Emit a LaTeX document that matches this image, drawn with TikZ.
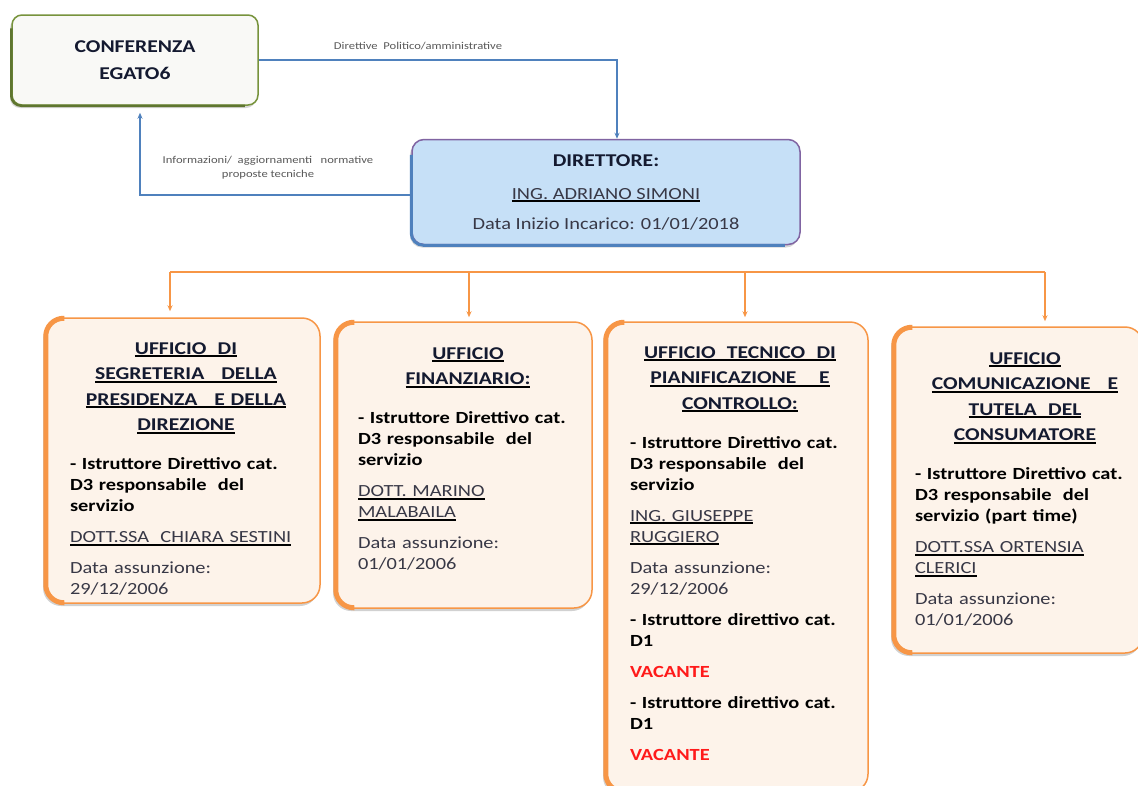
\documentclass[tikz,border=0pt]{standalone}
\usepackage{fontspec}
\setmainfont{Carlito}[FakeStretch=1.2]
\usetikzlibrary{shadows,arrows.meta}
\definecolor{ufforange}{HTML}{F79646}
\definecolor{uffill}{HTML}{FDF3EA}
\definecolor{dirfill}{HTML}{C6E0F7}
\definecolor{dirborder}{HTML}{8064A2}
\definecolor{diredge}{HTML}{4F81BD}
\definecolor{confborder}{HTML}{77933C}
\definecolor{conffill}{HTML}{F9F9F6}
\definecolor{titlecol}{HTML}{141A30}
\definecolor{namecol}{HTML}{383846}
\definecolor{vacred}{HTML}{FF1A1A}
\newcommand{\ulin}[1]{\leavevmode\setbox0=\hbox{#1}\rlap{\copy0}{\color{black}\rule[-3pt]{\wd0}{1.6pt}}}
\newcommand{\uftitle}[1]{{\centering\fontsize{18}{25.5}\selectfont\bfseries\color{titlecol}#1\par}\vspace{18pt}}
\newcommand{\ufgap}{\par\vspace{10pt}}

\begin{document}
\begin{tikzpicture}[x=1pt,y=-1pt,
  ufbox/.style={draw=ufforange, line width=1.5pt, fill=uffill, rounded corners=18pt,
    drop shadow={shadow xshift=-2pt, shadow yshift=-3pt, fill=black!40, opacity=.45}},
  uftext/.style={anchor=north, inner sep=0pt, text width=#1, align=left,
    font=\fontsize{17}{21}\selectfont},
  bluearr/.style={draw=diredge, line width=1.3pt, -{Stealth[length=6pt,width=5pt]}},
  orangearr/.style={draw=ufforange, line width=1.3pt, -{Stealth[length=6pt,width=5pt]}},
  smalllab/.style={font=\fontsize{10.5}{14}\selectfont, text=black!65, align=center, inner sep=0pt}]
  \useasboundingbox[fill=white] (0,0) rectangle (1138,785);

  % top boxes
  \node[draw=confborder, line width=1.5pt, fill=conffill, rounded corners=10pt,
    minimum width=246pt, minimum height=90pt, align=center,
    font=\fontsize{18}{27}\selectfont\bfseries, text=titlecol,
    drop shadow={shadow xshift=-2pt, shadow yshift=-3pt, fill=black!40, opacity=.4}]
    (conf) at (135,60) {CONFERENZA\\EGATO6};
  \node[draw=dirborder, line width=1.5pt, fill=dirfill, rounded corners=12pt,
    minimum width=388pt, minimum height=105pt, align=center,
    font=\fontsize{17}{21}\selectfont, text=namecol,
    drop shadow={shadow xshift=-2pt, shadow yshift=-3pt, fill=black!40, opacity=.4}]
    (dir) at (606,192) {{\fontsize{18}{21}\selectfont\bfseries\color{titlecol}DIRETTORE:}\\[12pt]
    \ulin{ING. ADRIANO SIMONI}\\[9pt]
    Data Inizio Incarico: 01/01/2018};
  \draw[diredge, line width=3pt, rounded corners=12pt]
    ([yshift=-16pt]dir.north west) -- (dir.south west) -- ([xshift=-16pt]dir.south east);
  \draw[confborder!80!black, line width=2.5pt, rounded corners=10pt]
    ([yshift=-14pt]conf.north west) -- (conf.south west) -- ([xshift=-14pt]conf.south east);

  % offices
  \node[ufbox, minimum width=275pt, minimum height=285pt] (b1) at (182.5,460.5) {};
  \node[ufbox, minimum width=257pt, minimum height=286pt] (b2) at (463.5,465) {};
  \node[ufbox, minimum width=263pt, minimum height=470pt] (b3) at (736.5,557) {};
  \node[ufbox, minimum width=250pt, minimum height=326pt] (b4) at (1018,490) {};
  \foreach \b in {b1,b2,b3,b4}{% thick left edge
    \draw[ufforange, line width=5pt, rounded corners=18pt]
      ([xshift=20pt,yshift=-1pt]\b.north west) -- ([xshift=1.5pt,yshift=-1pt]\b.north west)
      -- ([xshift=1.5pt,yshift=1pt]\b.south west) -- ([xshift=20pt,yshift=1pt]\b.south west);}

  \node[uftext=232pt] (t1) at (186,342) {\uftitle{\ulin{UFFICIO\ \ DI}\\\ulin{SEGRETERIA\ \ \ DELLA}\\\ulin{PRESIDENZA\ \ \ E DELLA}\\\ulin{DIREZIONE}}
    \textbf{- Istruttore Direttivo cat.\\D3 responsabile\ \ del\\servizio}\ufgap
    {\color{namecol}\ulin{DOTT.SSA\ \ CHIARA SESTINI}}\ufgap
    {\color{namecol}Data assunzione:\\29/12/2006}};
  \node[uftext=220pt] (t2) at (468,347) {\uftitle{\ulin{UFFICIO}\\\ulin{FINANZIARIO:}}
    \textbf{- Istruttore Direttivo cat.\\D3 responsabile\ \ del\\servizio}\ufgap
    {\color{namecol}\ulin{DOTT. MARINO}\\\ulin{MALABAILA}}\ufgap
    {\color{namecol}Data assunzione:\\01/01/2006}};
  \node[uftext=220pt] (t3) at (740,346) {\uftitle{\ulin{UFFICIO\ \ TECNICO\ \ DI}\\\ulin{PIANIFICAZIONE\ \ \ \ E}\\\ulin{CONTROLLO:}}
    \textbf{- Istruttore Direttivo cat.\\D3 responsabile\ \ del\\servizio}\ufgap
    {\color{namecol}\ulin{ING. GIUSEPPE}\\\ulin{RUGGIERO}}\ufgap
    {\color{namecol}Data assunzione:\\29/12/2006}\ufgap
    \textbf{- Istruttore direttivo cat.\\D1}\ufgap
    {\bfseries\color{vacred}VACANTE}\ufgap
    \textbf{- Istruttore direttivo cat.\\D1}\ufgap
    {\bfseries\color{vacred}VACANTE}};
  \node[uftext=220pt] (t4) at (1025,352) {\uftitle{\ulin{UFFICIO}\\\ulin{COMUNICAZIONE\ \ \ E}\\\ulin{TUTELA\ \ DEL}\\\ulin{CONSUMATORE}}
    \textbf{- Istruttore Direttivo cat.\\D3 responsabile\ \ del\\servizio (part time)}\ufgap
    {\color{namecol}\ulin{DOTT.SSA ORTENSIA}\\\ulin{CLERICI}}\ufgap
    {\color{namecol}Data assunzione:\\01/01/2006}};

  % links between conference and director
  \draw[bluearr] (conf.east) -| ([xshift=11pt]dir.north);
  \draw[bluearr] ([yshift=-3pt]dir.west) -| ([xshift=5pt,yshift=-7pt]conf.south);
  \node[smalllab] (lab1) at (418,46) {Direttive\ \ Politico/amministrative};
  \node[smalllab] (lab2) at (268,168) {Informazioni/\ \ aggiornamenti\ \ \ normative\\proposte tecniche};

  % orange bus to the offices
  \coordinate (busa) at (170,272);
  \coordinate (busb) at (469,272);
  \coordinate (busc) at (745,272);
  \coordinate (busd) at (1045,272);
  \draw[ufforange, line width=1.3pt] (busa) -- (busd);
  \draw[orangearr, shorten >=6pt] (busa) -- (busa |- b1.north);
  \draw[orangearr, shorten >=4pt] (busb) -- (busb |- b2.north);
  \draw[orangearr, shorten >=4pt] (busc) -- (busc |- b3.north);
  \draw[orangearr, shorten >=5pt] (busd) -- (busd |- b4.north);
\end{tikzpicture}
\end{document}
